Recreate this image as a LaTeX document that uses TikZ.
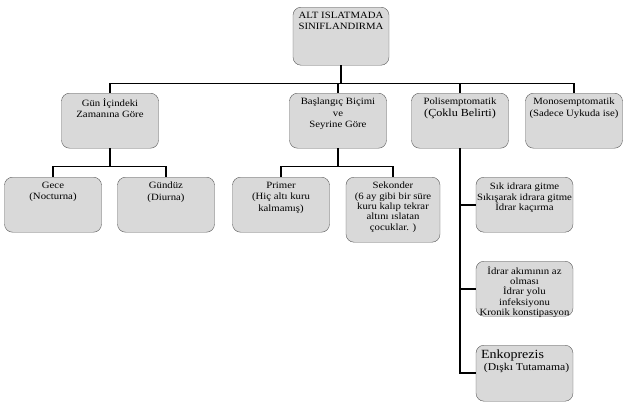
\documentclass[tikz,border=0pt]{standalone}
\usepackage{fontspec}
\setmainfont{Liberation Serif}[FakeStretch=1.12]
\usetikzlibrary{calc, positioning}

\tikzset{
	kutu/.style={draw=gray!70!black, fill=gray!30, rounded corners=8pt, minimum width=97pt, minimum height=55pt, anchor=north, inner sep=0pt},
	yazi/.style={anchor=north, align=center, inner sep=0pt, font=\fontsize{9.6}{11.4}\selectfont},
	sik/.style={font=\fontsize{9.6}{10.3}\selectfont},
	hat/.style={line width=1.8pt}
}

\begin{document}
\begin{tikzpicture}[x=1pt,y=-1pt]

	\useasboundingbox (0,0) rectangle (627,407);

	\node[kutu, minimum width=96pt, minimum height=58pt] (ust) at (341,7) {};
	\node[yazi] (ustY) at ($(ust.north)+(0,5)$) {ALT ISLATMADA\\SINIFLANDIRMA};

	\node[kutu] (gun) at (110,93) {};
	\node[yazi] (gunY) at ($(gun.north)+(0,5)$) {Gün İçindeki\\Zamanına Göre};
	\node[kutu] (bas) at (338,93) {};
	\node[yazi] (basY) at ($(bas.north)+(0,5)$) {Başlangıç Biçimi\\ve\\Seyrine Göre};
	\node[kutu] (poli) at (460,93) {};
	\node[yazi] (poliY) at ($(poli.north)+(0,5)$) {Polisemptomatik\\{\fontsize{10.8}{12.4}\selectfont(Çoklu Belirti)}};
	\node[kutu] (mono) at (574,93) {};
	\node[yazi] (monoY) at ($(mono.north)+(0,5)$) {Monosemptomatik\\(Sadece Uykuda ise)};

	\node[kutu] (gece) at (53,177) {};
	\node[yazi] (geceY) at ($(gece.north)+(0,5)$) {Gece\\(Nocturna)};
	\node[kutu] (gunduz) at (166,177) {};
	\node[yazi] (gunduzY) at ($(gunduz.north)+(0,5)$) {Gündüz\\(Diurna)};
	\node[kutu] (primer) at (281,177) {};
	\node[yazi] (primerY) at ($(primer.north)+(0,5)$) {Primer\\(Hiç altı kuru\\kalmamış)};
	\node[kutu, minimum width=94pt, minimum height=65pt] (sekonder) at (393,177) {};
	\node[yazi, sik] (sekonderY) at ($(sekonder.north)+(0,5)$) {Sekonder\\(6 ay gibi bir süre\\kuru kalıp tekrar\\altını ıslatan\\çocuklar. )};

	\node[kutu] (idrar) at (524.5,177) {};
	\node[yazi, sik] (idrarY) at ($(idrar.north)+(0,6)$) {Sık idrara gitme\\Sıkışarak idrara gitme\\İdrar kaçırma};
	\node[kutu] (akim) at (524.5,261) {};
	\node[yazi, sik] (akimY) at ($(akim.north)+(0,5)$) {İdrar akımının az\\olması\\İdrar yolu\\infeksiyonu\\Kronik konstipasyon};
	\node[kutu, minimum height=56pt] (enko) at (524.5,345) {};
	\node[yazi, anchor=north west, align=left] (enkoY) at ($(enko.north west)+(5,5)$) {{\fontsize{12.5}{14.5}\selectfont Enkoprezis}\\{\fontsize{10.4}{12}\selectfont\ (Dışkı Tutamama)}};

	\foreach \k in {gun,bas,poli,mono}
		\draw[hat] (ust.south) -- ++(0,18) -| (\k.north);
	\foreach \k in {gece,gunduz}
		\draw[hat] (gun.south) -- ++(0,18) -| (\k.north);
	\foreach \k in {primer,sekonder}
		\draw[hat] (bas.south) -- ++(0,18) -| (\k.north);
	\foreach \k in {idrar,akim,enko}
		\draw[hat] (poli.south) |- (\k.west);

\end{tikzpicture}
\end{document}
